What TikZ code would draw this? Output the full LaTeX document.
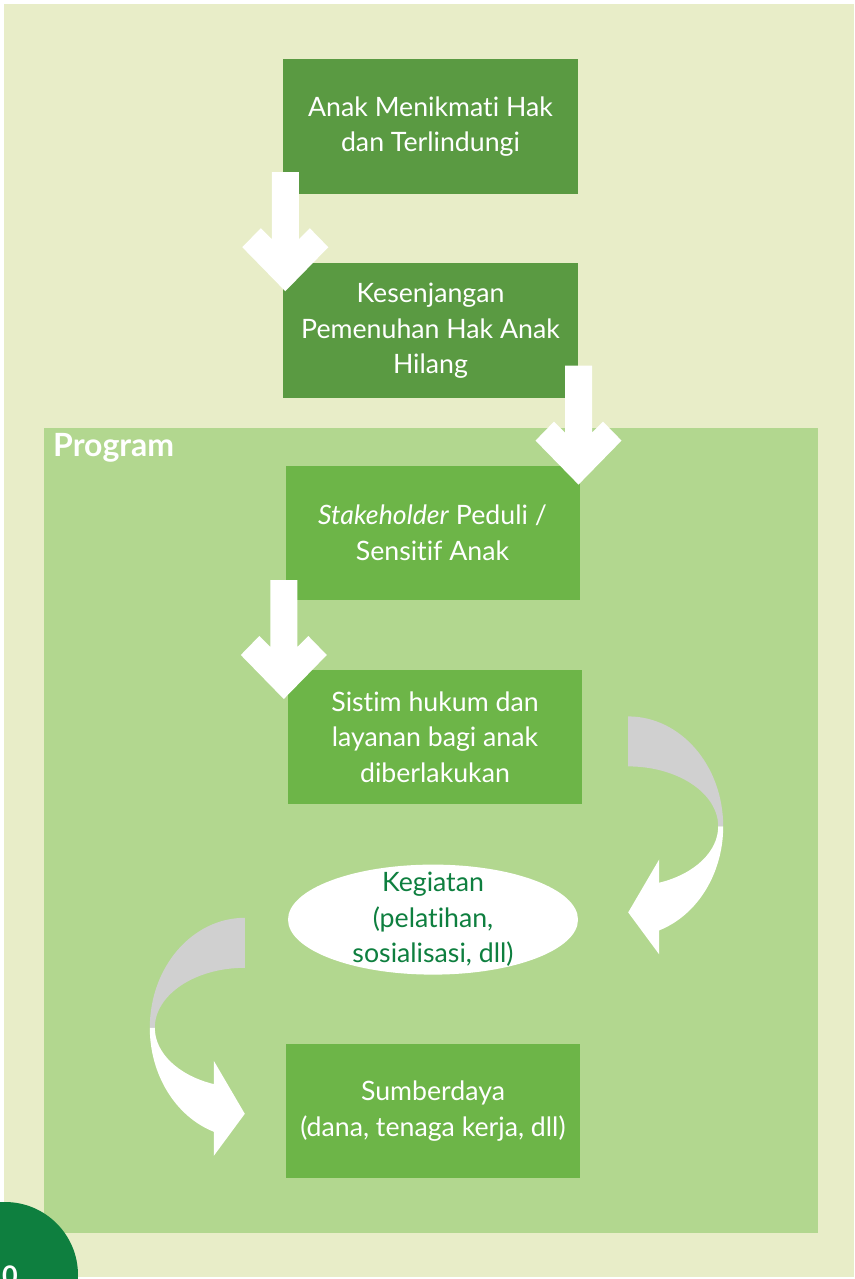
\documentclass[tikz,border=0pt]{standalone}
\usepackage{fontspec}
\setmainfont{Lato}[Ligatures=NoCommon]
\usetikzlibrary{positioning,calc,shapes.geometric}

\definecolor{pagebg}{RGB}{232,237,200}
\definecolor{progbg}{RGB}{178,215,143}
\definecolor{darkleaf}{RGB}{90,154,66}
\definecolor{leaf}{RGB}{109,181,72}
\definecolor{backgray}{RGB}{208,208,208}
\definecolor{pinegreen}{RGB}{14,127,63}

\newcommand{\boxfont}{\fontsize{26.7}{35.5}\selectfont}

% thick white arrow pointing down, #1 = middle of the shaft top
\newcommand{\bigarrow}[1]{\fill[white] #1 ++(-13.5,0) -- ++(27,0) -- ++(0,67) -- ++(11,-11) -- ++(18.5,19) -- ++(-43,44) -- ++(-43,-44) -- ++(18.5,-19) -- ++(11,11) -- cycle;}

% curved arrow, grey back half and white front half with the head
\newcommand{\bendarrow}{%
  \fill[backgray] (0,-110) arc[start angle=-90,end angle=0,x radius=95,y radius=110] -- (90,0) arc[start angle=0,end angle=-90,x radius=90,y radius=60] -- cycle;
  \fill[white] (95,0) arc[start angle=0,end angle=70.96,x radius=95,y radius=110] -- (31,128) -- (0,86) -- (31,33) -- (31,56.3) arc[start angle=69.85,end angle=0,x radius=90,y radius=60] -- cycle;}

\begin{document}
\begin{tikzpicture}[x=1pt,y=-1pt]
  \tikzstyle{darkbox}=[rectangle,fill=darkleaf,text=white,minimum width=295pt,minimum height=135pt,inner sep=0,align=center,font=\boxfont]
  \tikzstyle{lightbox}=[rectangle,fill=leaf,text=white,minimum width=294pt,minimum height=134pt,inner sep=0,align=center,font=\boxfont]

  \useasboundingbox (0,0) rectangle (854,1279);
  \clip (0,0) rectangle (854,1279);
  \fill[white] (0,0) rectangle (854,1279);
  \fill[pagebg] (4,4) rectangle (854,1277);

  \node[fill=progbg,minimum width=774pt,minimum height=805pt,inner sep=0,anchor=north west] (prog) at (44,428) {};
  \node[anchor=base west,inner sep=0,text=white,font=\bfseries\fontsize{32}{34}\selectfont] (proglabel) at ($(prog.north west)+(9,28)$) {Program};

  \node[darkbox] (goal) at (430.5,126.5) {Anak Menikmati Hak\\dan Terlindungi};
  \node[darkbox,below=69pt of goal] (gap) {Kesenjangan\\Pemenuhan Hak Anak\\Hilang};
  \node[lightbox,below=67pt of gap,xshift=2pt] (stake) {\textit{Stakeholder} Peduli /\\Sensitif Anak};
  \node[lightbox,below=70pt of stake,xshift=2.5pt] (law) {Sistim hukum dan\\layanan bagi anak\\diberlakukan};
  \node[ellipse,fill=white,minimum width=290pt,minimum height=110pt,inner sep=0,below=60pt of law,xshift=-2pt] (act) {};
  \node[align=center,text=pinegreen,font=\boxfont,inner sep=0] (acttext) at (act) {Kegiatan\\(pelatihan,\\sosialisasi, dll)};
  \node[lightbox,below=69pt of act] (res) {Sumberdaya\\(dana, tenaga kerja, dll)};

  \bigarrow{($(goal.south west)+(2.5,-22)$)}
  \bigarrow{($(gap.south east)+(0.3,-33)$)}
  \bigarrow{($(stake.south west)+(-1.5,-20)$)}

  \begin{scope}[shift={($(law.south east)+(46,22)$)}]
    \bendarrow
  \end{scope}
  \begin{scope}[shift={($(res.north west)+(-41,-16)$)},xscale=-1]
    \bendarrow
  \end{scope}

  \node[circle,fill=pinegreen,minimum size=146pt,inner sep=0] (pagenum) at (5,1275) {};
  \node[anchor=base west,inner sep=0,text=white,font=\bfseries\fontsize{27}{30}\selectfont] (pagetext) at (2,1285) {0};
\end{tikzpicture}
\end{document}
